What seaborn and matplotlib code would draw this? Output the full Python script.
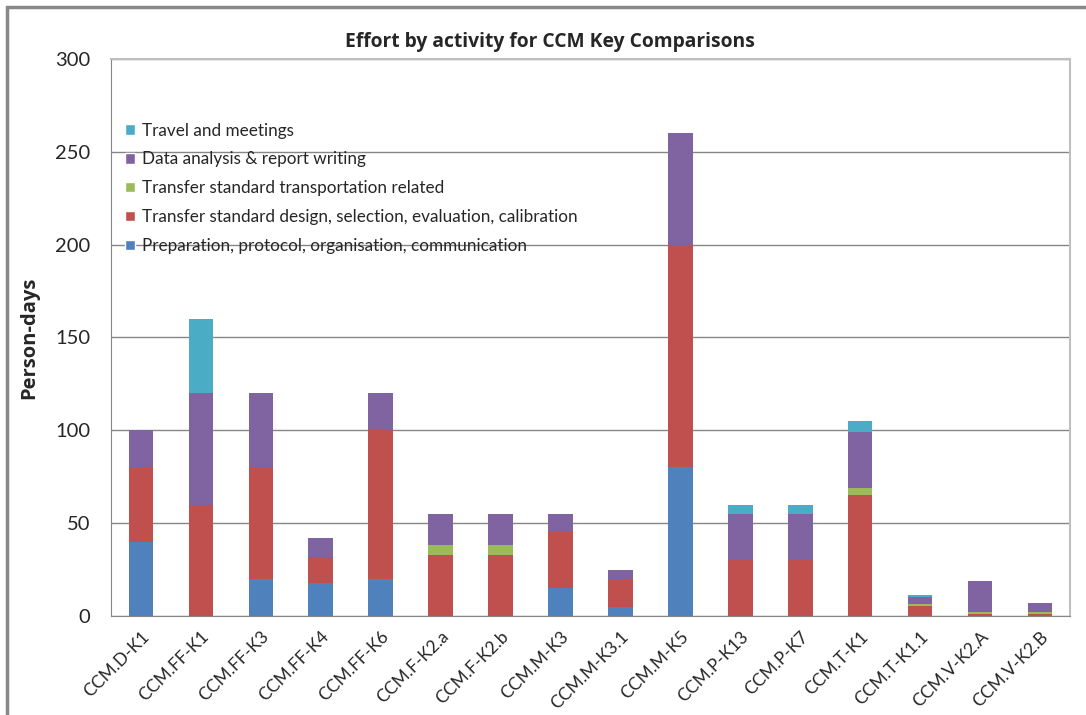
import numpy as np
import pandas as pd
import seaborn as sns
import matplotlib.pyplot as plt
from matplotlib.patches import Patch, Rectangle

# Values (person-days)
comparisons = ["CCM.D-K1", "CCM.FF-K1", "CCM.FF-K3", "CCM.FF-K4", "CCM.FF-K6",
               "CCM.F-K2.a", "CCM.F-K2.b", "CCM.M-K3", "CCM.M-K3.1", "CCM.M-K5",
               "CCM.P-K13", "CCM.P-K7", "CCM.T-K1", "CCM.T-K1.1", "CCM.V-K2.A", "CCM.V-K2.B"]
preparation = [40, 0, 20, 17.5, 20, 0, 0, 15, 5, 80, 0, 0, 0, 0, 0, 0]
design = [40, 60, 60, 14.5, 80, 33, 33, 30, 15, 120, 30, 30, 65, 5.5, 1, 1]
transport = [0, 0, 0, 0, 0, 5, 5, 0, 0, 0, 0, 0, 4, 0.7, 1.3, 1.3]
analysis = [20, 60, 40, 10, 20, 17, 17, 10, 5, 60, 25, 25, 30, 4, 16.7, 4.7]
travel = [0, 40, 0, 0, 0, 0, 0, 0, 0, 0, 5, 5, 6, 1, 0, 0]

labels = ["Preparation, protocol, organisation, communication",
          "Transfer standard design, selection, evaluation, calibration",
          "Transfer standard transportation related",
          "Data analysis & report writing",
          "Travel and meetings"]
colors = ["#4F81BD", "#C0504D", "#9BBB59", "#8064A2", "#4BACC6"]

df = pd.DataFrame({"comparison": comparisons,
                   labels[0]: preparation, labels[1]: design, labels[2]: transport,
                   labels[3]: analysis, labels[4]: travel})
cum = df[labels].cumsum(axis=1)

sns.set_style("white")
plt.rcParams['font.family'] = ['Lato', 'DejaVu Sans']

fig = plt.figure(figsize=(10.86, 7.15), dpi=100)
ax = fig.add_axes([0.1022, 0.1385, 0.883, 0.779])

# stacked bars: draw cumulative totals from the top layer down
for lab, col in zip(labels[::-1], colors[::-1]):
    sns.barplot(x=df["comparison"], y=cum[lab], color=col, width=0.41,
                linewidth=0, saturation=1, ax=ax, zorder=3)

ax.set_ylim(0, 300)
ax.set_xlim(-0.5, len(comparisons) - 0.5)
ax.set_yticks(range(0, 301, 50))
ax.yaxis.grid(True, color="#868686", linewidth=1, zorder=0)
ax.set_axisbelow(True)

ax.set_xticks(np.arange(len(comparisons)))
ax.set_xticklabels(comparisons, rotation=45, ha="right", rotation_mode="anchor", fontsize=12.5)
ax.set_xticks(np.arange(-0.5, len(comparisons)), minor=True)
ax.tick_params(axis="x", which="major", length=0, pad=9)
ax.tick_params(axis="x", which="minor", length=6, color="#868686", width=1)
ax.tick_params(axis="y", length=6, color="#868686", width=1, labelsize=14.5, pad=9)

for side in ["left", "bottom"]:
    ax.spines[side].set_color("#868686")
for side in ["top", "right"]:
    ax.spines[side].set_color("#BFBFBF")
    ax.spines[side].set_linewidth(1.5)

ax.set_xlabel("")
ax.set_ylabel("Person-days", fontsize=14.5, fontweight="bold", family=["Open Sans", "DejaVu Sans"],
              labelpad=11)
fig.text(550 / 1086, 1 - 42 / 715, "Effort by activity for CCM Key Comparisons", fontsize=13.9,
         fontweight="bold", family=["Open Sans", "DejaVu Sans"], ha="center", va="center")

handles = [Patch(facecolor=c, label=l) for l, c in zip(labels[::-1], colors[::-1])]
ax.legend(handles=handles, loc="upper left", bbox_to_anchor=(0.008, 0.898),
          frameon=False, fontsize=12.3, handlelength=0.55, handleheight=0.55,
          handletextpad=0.4, labelspacing=0.75, borderaxespad=0)

# chart area border
fig.patches.append(Rectangle((0.0064, -0.1), 1.2, 1.09, transform=fig.transFigure,
                             fill=False, edgecolor="#888888", linewidth=2.5))

fig.savefig("out.png", dpi=100)
